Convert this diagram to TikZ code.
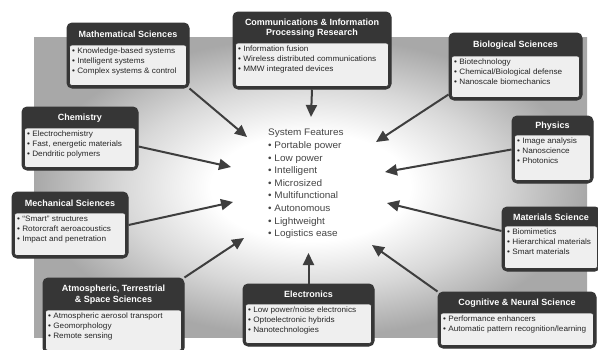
\documentclass[tikz,border=0pt]{standalone}
\usepackage{fontspec}
\setmainfont{Liberation Sans}
\newfontfamily\itemfont[FakeStretch=1.05]{Liberation Sans}
\newfontfamily\headfont{Liberation Sans}
\usetikzlibrary{arrows.meta,fit}

\definecolor{boxdark}{HTML}{363636}
\definecolor{bodylight}{HTML}{EFEFEF}
\definecolor{arrowdark}{HTML}{3E3E3E}
\definecolor{featgray}{HTML}{454545}
\definecolor{bggray}{HTML}{A8A8A8}

% soft white glow in the middle of the grey panel
\pgfdeclareradialshading{glow}{\pgfpoint{0bp}{0bp}}{%
  color(0bp)=(white); color(9bp)=(white); color(17bp)=(bggray!45!white);
  color(25bp)=(bggray); color(50bp)=(bggray)}

\tikzset{
  frame/.style={draw=boxdark, fill=boxdark, rounded corners=5pt, line width=1pt, inner sep=0pt},
  bodyface/.style={draw=boxdark, fill=bodylight, rounded corners=2.5pt, line width=0.6pt},
  titletext/.style={text=white, font=\headfont\bfseries\fontsize{9}{10.5}\selectfont, align=center, inner sep=0pt},
  itemtext/.style={anchor=north west, align=left, inner sep=0pt, text=black!85,
    font=\itemfont\fontsize{7.8}{10}\selectfont},
  features/.style={anchor=north west, align=left, inner sep=0pt, text=featgray,
    font=\itemfont\fontsize{9.5}{12.6}\selectfont},
  flow/.style={draw=arrowdark, line width=2pt, -{Triangle[length=12pt,width=11pt]}}
}

% name, x1, y1, x2, y2, bottom of title bar, title, items
\newcommand\infobox[8]{%
  \node[frame, fit={(#2,#3) (#4,#5)}] (#1) {};
  \path[bodyface] ({#2+2.5},#6) rectangle ({#4-2.5},{#5-2.5});
  \node[titletext] (#1-title) at ({(#2+#4)/2},{(#3+#6)/2+0.5}) {#7};
  \node[itemtext] (#1-items) at ({#2+5},{#6+3}) {#8};
}

\begin{document}
\begin{tikzpicture}[x=1pt, y=-1pt]
\useasboundingbox (0,0) rectangle (598,349);
\fill[white] (0,0) rectangle (598,349);
\shade[shading=glow] (34,37) rectangle (587,337);

% centre text
\node[features] (features) at (268,129) {System Features\\
  • Portable power\\ • Low power\\ • Intelligent\\ • Microsized\\
  • Multifunctional\\ • Autonomous\\ • Lightweight\\ • Logistics ease};

% arrow tips around the centre
\coordinate (t-math) at (247,137);
\coordinate (t-comm) at (311,117);
\coordinate (t-bio)  at (376,142);
\coordinate (t-chem) at (231,167);
\coordinate (t-phys) at (385,172);
\coordinate (t-mech) at (233,202);
\coordinate (t-mater) at (387,203);
\coordinate (t-atmos) at (244,238);
\coordinate (t-elec) at (308.5,253);
\coordinate (t-cogn) at (372,245);

\infobox{math}{67}{23}{189}{88}{45}{Mathematical Sciences}
  {• Knowledge-based systems\\ • Intelligent systems\\ • Complex systems \& control}
\infobox{comm}{233}{12}{391}{89}{43}{Communications \& Information\\Processing Research}
  {• Information fusion\\ • Wireless distributed communications\\ • MMW integrated devices}
\infobox{bio}{449}{33}{582}{100}{56}{Biological Sciences}
  {• Biotechnology\\ • Chemical/Biological defense\\ • Nanoscale biomechanics}
\infobox{chem}{22}{107}{138}{170}{128}{Chemistry}
  {• Electrochemistry\\ • Fast, energetic materials\\ • Dendritic polymers}
\infobox{phys}{512}{116}{593}{183}{135}{Physics}
  {• Image analysis\\ • Nanoscience\\ • Photonics}
\infobox{mech}{12}{192}{128}{258}{213}{Mechanical Sciences}
  {• “Smart” structures\\ • Rotorcraft aeroacoustics\\ • Impact and penetration}
\infobox{mater}{502}{207}{600}{271}{226}{Materials Science}
  {• Biomimetics\\ • Hierarchical materials\\ • Smart materials}
\infobox{atmos}{43}{278}{184}{353}{310}{Atmospheric, Terrestrial\\\& Space Sciences}
  {• Atmospheric aerosol transport\\ • Geomorphology\\ • Remote sensing}
\infobox{elec}{243}{284}{374}{346}{304}{Electronics}
  {• Low power/noise electronics\\ • Optoelectronic hybrids\\ • Nanotechnologies}
\infobox{cogn}{438}{292}{596}{348}{313}{Cognitive \& Neural Science}
  {• Performance enhancers\\ • Automatic pattern recognition/learning}

% connectors into the centre
\draw[flow] (math.south east) -- (t-math);
\draw[flow] (comm.south) -- (t-comm);
\draw[flow] ([yshift=6pt]bio.south west) -- (t-bio);
\draw[flow] ([yshift=-8pt]chem.east) -- (t-chem);
\draw[flow] (phys.west) -- (t-phys);
\draw[flow] (mech.east) -- (t-mech);
\draw[flow] ([yshift=8pt]mater.west) -- (t-mater);
\draw[flow] (atmos.north east) -- (t-atmos);
\draw[flow] (elec.north) -- (t-elec);
\draw[flow] (cogn.north west) -- (t-cogn);
\end{tikzpicture}
\end{document}
